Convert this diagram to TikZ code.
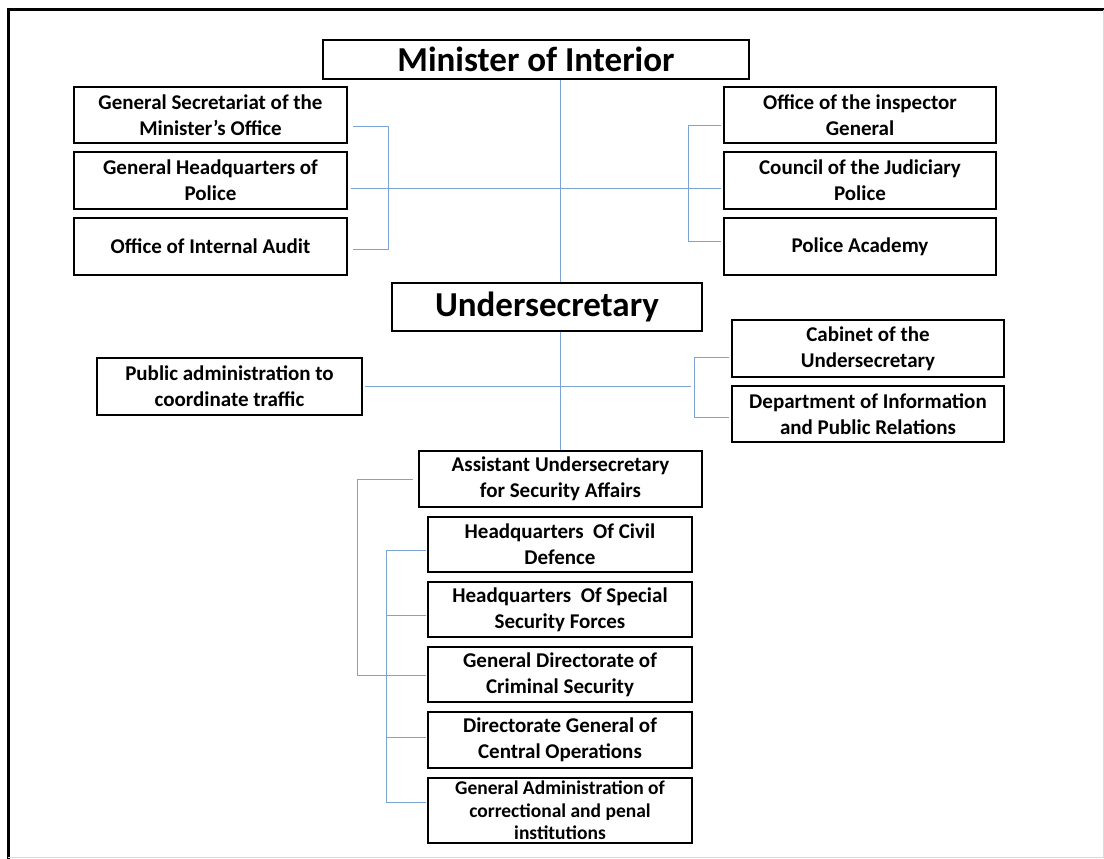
\documentclass[tikz,border=0pt]{standalone}
\usepackage{fontspec}
\setmainfont{Carlito}
\begin{document}
\begin{tikzpicture}[x=1pt,y=-1pt,
  box/.style={draw=black, line width=2.2pt, align=center, inner sep=0pt,
    font=\bfseries\fontsize{21}{26}\selectfont},
  bigbox/.style={box, font=\bfseries\fontsize{35}{38}\selectfont},
  conn/.style={draw=linkblue, line width=1pt},
]
\definecolor{linkblue}{HTML}{7CA3D6}
\useasboundingbox (0,0) rectangle (1104,859);
% outer frame
\draw[line width=3pt] (8,859) -- (8,10) -- (1104,10);
\draw[black!15, line width=0.8pt] (1103,10) -- (1103,857) -- (8,857);

% top level
\node[bigbox, minimum width=426, minimum height=39] (mi) at (536,59.5) {Minister of Interior};
\node[box, minimum width=273, minimum height=56] (gs) at (210.5,115) {General Secretariat of the\\Minister's Office};
\node[box, minimum width=273, minimum height=57] (gh) at (210.5,180.5) {General Headquarters of\\Police};
\node[box, minimum width=273, minimum height=57] (ia) at (210.5,246.5) {Office of Internal Audit};
\node[box, minimum width=272, minimum height=56] (ig) at (860,115) {Office of the inspector\\General};
\node[box, minimum width=272, minimum height=57] (cj) at (860,180.5) {Council of the Judiciary\\Police};
\node[box, minimum width=272, minimum height=57] (pa) at (860,246.5) {Police Academy};

% undersecretary level
\node[bigbox, minimum width=310, minimum height=48] (us) at (547,307) {Undersecretary};
\node[box, minimum width=265, minimum height=57] (pt) at (229.5,386.5) {Public administration to\\coordinate traffic};
\node[box, minimum width=272, minimum height=57] (cu) at (868,348.5) {Cabinet of the\\Undersecretary};
\node[box, minimum width=272, minimum height=56] (di) at (868,414) {Department of Information\\and Public Relations};

% assistant level
\node[box, minimum width=283, minimum height=56] (as) at (560.5,479) {Assistant Undersecretary\\for Security Affairs};
\node[box, minimum width=264, minimum height=55] (cd) at (560,544.5) {Headquarters~ Of Civil\\Defence};
\node[box, minimum width=264, minimum height=55] (ss) at (560,609.5) {Headquarters~ Of Special\\Security Forces};
\node[box, minimum width=264, minimum height=55] (cs) at (560,674.5) {General Directorate of\\Criminal Security};
\node[box, minimum width=264, minimum height=56] (co) at (560,740) {Directorate General of\\Central Operations};
\node[box, minimum width=264, minimum height=65, font=\bfseries\fontsize{19.5}{22.5}\selectfont] (ga) at (560,810.5) {General Administration of\\correctional and penal\\institutions};

% connector coordinates
\coordinate (h1) at (560,188);
\coordinate (lb1) at (388,126);
\coordinate (lb3) at (388,249);
\coordinate (rb1) at (688,125);
\coordinate (rb3) at (688,241);
\coordinate (h2) at (560,386);
\coordinate (rc1) at (694,357);
\coordinate (rc2) at (694,417);
\coordinate (ob1) at (357,479);
\coordinate (ob2) at (357,675);
\coordinate (ib1) at (386,550);
\coordinate (ib5) at (386,802);

% connectors
\draw[conn] (h1 |- mi.south) -- (h1 |- us.north);
\draw[conn] (h1 |- us.south) -- (h1 |- as.north);
\draw[conn] ([xshift=3pt]gh.east |- h1) -- ([xshift=-2pt]cj.west |- h1);
\draw[conn] ([xshift=5pt]gs.east |- lb1) -- (lb1) -- (lb3) -- ([xshift=5pt]ia.east |- lb3);
\draw[conn] ([xshift=-2pt]ig.west |- rb1) -- (rb1) -- (rb3) -- ([xshift=-2pt]pa.west |- rb3);
\draw[conn] ([xshift=2pt]pt.east |- h2) -- ([xshift=-3pt]rc1 |- h2);
\draw[conn] ([xshift=-2pt]cu.west |- rc1) -- (rc1) -- (rc2) -- ([xshift=-2pt]di.west |- rc2);
\draw[conn] ([xshift=-5pt]as.west |- ob1) -- (ob1) -- (ob2) -- ([xshift=-1pt]cs.west |- ob2);
\draw[conn] ([xshift=-1pt]cd.west |- ib1) -- (ib1) -- (ib5) -- ([xshift=-1pt]ga.west |- ib5);
\draw[conn] (ib1 |- 0,615) -- ([xshift=-1pt]ss.west |- 0,615);
\draw[conn] (ib1 |- 0,737) -- ([xshift=-1pt]co.west |- 0,737);
\end{tikzpicture}
\end{document}
